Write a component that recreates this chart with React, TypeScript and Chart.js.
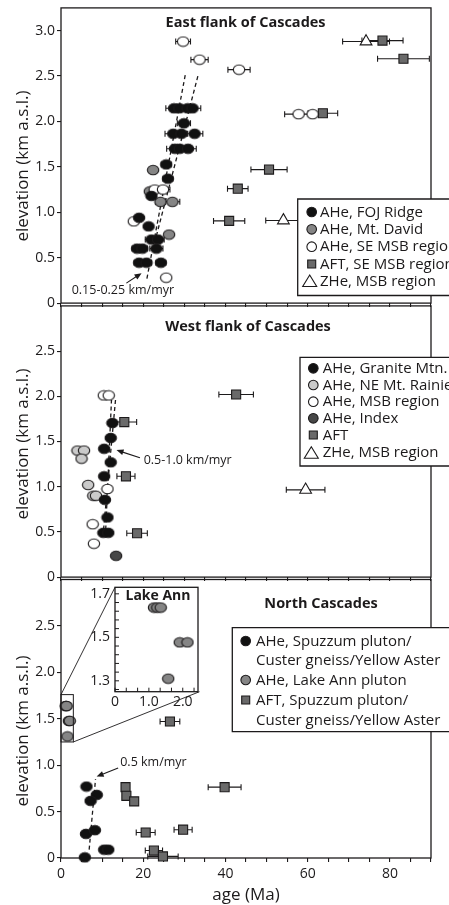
import React, { useEffect, useRef } from 'react';
import { Chart, registerables } from 'chart.js';

Chart.register(...registerables);

const FONT = '"Open Sans", "Noto Sans", sans-serif';
const INK = '#1c1a1b';
Chart.defaults.font.family = FONT;
Chart.defaults.color = INK;

// ---------------- axes ----------------
const AGE_MIN = 0;
const AGE_MAX = 90;
const ageTicks = [0, 5, 10, 15, 20, 25, 30, 35, 40, 45, 50, 55, 60, 65, 70, 75, 80, 85, 90];
const ageTickLabels = [0, 20, 40, 60, 80];
const eastElevMax = 3.25;
const westElevMax = 3.0;
const northElevMax = 3.0;
const eastElevTicks = [0, 0.5, 1.0, 1.5, 2.0, 2.5, 3.0];
const lowerElevTicks = [0, 0.5, 1.0, 1.5, 2.0, 2.5];

const insetAgeMax = 2.45;
const insetAgeTicks = [0, 0.333, 0.667, 1.0, 1.333, 1.667, 2.0, 2.333];
const insetAgeTickLabels = [0, 1, 2];
const insetElevMin = 1.25;
const insetElevMax = 1.73;
const insetElevTicks = [1.26, 1.3, 1.34, 1.38, 1.42, 1.46, 1.5, 1.54, 1.58, 1.62, 1.66, 1.7];
const insetElevTickLabels = [1.3, 1.5, 1.7];

// ---------------- East flank ----------------
const eastFojAge = [27.5, 28.8, 30.8, 32.0, 29.9, 27.3, 29.3, 32.5, 27.7, 28.9, 30.9, 25.6, 26.0, 22.0, 19.0, 21.3, 22.0, 23.6, 18.5, 19.8, 23.2, 19.0, 20.8, 24.3];
const eastFojElev = [2.145, 2.145, 2.145, 2.145, 1.98, 1.865, 1.865, 1.865, 1.70, 1.70, 1.70, 1.527, 1.37, 1.18, 0.94, 0.845, 0.70, 0.70, 0.60, 0.60, 0.60, 0.445, 0.445, 0.445];
const eastFojErr = [2.0, 1.5, 1.5, 2.0, 1.6, 2.0, 1.5, 2.0, 2.0, 1.5, 2.0, 1.2, 1.2, 1.0, 0, 0, 1.5, 1.5, 1.2, 1.2, 1.6, 1.2, 1.2, 1.2];
const eastDavidAge = [22.4, 21.6, 24.2, 27.1, 26.3];
const eastDavidElev = [1.465, 1.23, 1.115, 1.115, 0.755];
const eastDavidErr = [0, 0, 1.2, 1.8, 0];
const eastSeMsbAge = [29.7, 33.7, 43.3, 57.8, 61.2, 22.8, 24.8, 17.7, 25.6];
const eastSeMsbElev = [2.88, 2.68, 2.57, 2.08, 2.08, 1.25, 1.25, 0.90, 0.28];
const eastSeMsbErr = [1.8, 2.1, 2.7, 3.4, 0, 0, 1.7, 0, 0];
const eastAftAge = [78.2, 83.3, 63.7, 50.6, 43.0, 40.9];
const eastAftElev = [2.89, 2.69, 2.09, 1.47, 1.26, 0.905];
const eastAftErr = [5.0, 6.3, 3.6, 4.4, 2.5, 3.8];
const eastZheAge = [74.2, 54.1];
const eastZheElev = [2.88, 0.91];
const eastZheErr = [5.7, 4.3];
const eastRate1Age = [20.9, 30.3];
const eastRate1Elev = [0.27, 2.53];
const eastRate2Age = [23.2, 33.3];
const eastRate2Elev = [0.74, 2.50];
const eastArrowTail = [15.9, 0.22];
const eastArrowHead = [19.6, 0.33];
const eastNoteAt = [2.6, 0.14];

// ---------------- West flank ----------------
const westGraniteAge = [12.5, 12.1, 10.5, 12.1, 10.5, 10.7, 11.3, 10.3, 11.5];
const westGraniteElev = [1.705, 1.54, 1.42, 1.27, 1.115, 0.855, 0.66, 0.49, 0.49];
const westRainierAge = [4.0, 5.6, 5.0, 6.6, 7.85, 8.5];
const westRainierElev = [1.40, 1.40, 1.31, 1.02, 0.90, 0.90];
const westMsbAge = [10.4, 11.6, 11.3, 7.7, 8.0];
const westMsbElev = [2.01, 2.01, 0.975, 0.585, 0.37];
const westIndexAge = [13.4];
const westIndexElev = [0.236];
const westAftAge = [15.4, 15.8, 18.5, 42.6];
const westAftElev = [1.715, 1.115, 0.485, 2.02];
const westAftErr = [3.0, 2.2, 2.5, 4.2];
const westZheAge = [59.5];
const westZheElev = [0.965];
const westZheErr = [4.7];
const westRate1Age = [10.8, 12.3];
const westRate1Elev = [0.45, 1.98];
const westRate2Age = [10.2, 13.3];
const westRate2Elev = [0.45, 1.98];
const westArrowTail = [19.2, 1.32];
const westArrowHead = [13.5, 1.405];
const westNoteAt = [20.1, 1.285];

// ---------------- North Cascades ----------------
const northSpuzzumAge = [6.2, 8.7, 7.2, 6.07, 8.25, 10.5, 11.5, 5.8];
const northSpuzzumElev = [0.77, 0.68, 0.616, 0.26, 0.30, 0.09, 0.09, 0.007];
const northLakeAnnAge = [1.15, 1.25, 1.35, 1.91, 2.14, 1.57];
const northLakeAnnElev = [1.637, 1.637, 1.637, 1.477, 1.477, 1.31];
const northAftAge = [26.5, 39.8, 15.7, 15.9, 17.8, 20.6, 29.7, 22.6, 24.8];
const northAftElev = [1.47, 0.763, 0.763, 0.67, 0.61, 0.275, 0.305, 0.08, 0.017];
const northAftErr = [2.4, 4.0, 0, 0, 0, 2.3, 2.2, 2.1, 3.7];
const northRateAge = [6.85, 8.4];
const northRateElev = [0.09, 0.85];
const northArrowTail = [13.9, 0.97];
const northArrowHead = [8.67, 0.877];
const northNoteAt = [14.4, 1.03];
const lakeAnnBoxAge = [0, 3.0];
const lakeAnnBoxElev = [1.25, 1.76];

// ---------------- layout (pixels) ----------------
const W = 449;
const A_TOP = 0, A_H = 311;
const B_TOP = 298, B_H = 287;
const C_TOP = 572, C_H = 333;
const D_LEFT = 80, D_TOP = 580, D_W = 125, D_H = 130;
const INSET_BOX = { left: 115, top: 587.3, right: 199.5, bottom: 691.7 };

const BLACK = '#111111';
const GRAY = '#858585';
const SQUARE_GRAY = '#6a6a6a';
const LIGHT = '#cacaca';
const INDEX = '#474747';
const WHITE = '#ffffff';

// ---------------- helpers ----------------
const markerCache: Record<string, HTMLCanvasElement> = {};
function ellipseMarker(fill: string): HTMLCanvasElement {
  if (markerCache[fill]) return markerCache[fill];
  const c = document.createElement('canvas');
  c.width = 14;
  c.height = 12;
  const g = c.getContext('2d')!;
  g.beginPath();
  g.ellipse(7, 6, 5.7, 4.7, 0, 0, Math.PI * 2);
  g.fillStyle = fill;
  g.fill();
  g.lineWidth = 1.1;
  g.strokeStyle = INK;
  g.stroke();
  markerCache[fill] = c;
  return c;
}

function pts(xs: number[], ys: number[]) {
  return xs.map((x, i) => ({ x, y: ys[i] }));
}

function dotSet(label: string, xs: number[], ys: number[], fill: string, err?: number[]) {
  return { label, data: pts(xs, ys), pointStyle: ellipseMarker(fill), pointRadius: 6, errX: err, clip: false, order: 1 };
}
function squareSet(label: string, xs: number[], ys: number[], err?: number[]) {
  return {
    label, data: pts(xs, ys), pointStyle: 'rect', pointRadius: 6.4, backgroundColor: SQUARE_GRAY,
    borderColor: INK, borderWidth: 1.1, errX: err, clip: false, order: 1,
  };
}
function triangleSet(label: string, xs: number[], ys: number[], err?: number[]) {
  return {
    label, data: pts(xs, ys), pointStyle: 'triangle', pointRadius: 6.8, backgroundColor: WHITE,
    borderColor: INK, borderWidth: 1.1, errX: err, clip: false, order: 1,
  };
}
function dashSet(xs: number[], ys: number[]) {
  return {
    label: 'rate', data: pts(xs, ys), showLine: true, borderColor: INK, borderWidth: 1.3,
    borderDash: [4, 3], pointRadius: 0, fill: false, clip: false, order: 10,
  };
}

function drawArrow(ctx: CanvasRenderingContext2D, x1: number, y1: number, x2: number, y2: number) {
  const a = Math.atan2(y2 - y1, x2 - x1);
  const hl = 7, hw = 3;
  const c = Math.cos(a), s = Math.sin(a);
  ctx.beginPath();
  ctx.moveTo(x1, y1);
  ctx.lineTo(x2 - hl * 0.7 * c, y2 - hl * 0.7 * s);
  ctx.stroke();
  ctx.beginPath();
  ctx.moveTo(x2, y2);
  ctx.lineTo(x2 - hl * c + hw * s, y2 - hl * s - hw * c);
  ctx.lineTo(x2 - hl * c - hw * s, y2 - hl * s + hw * c);
  ctx.closePath();
  ctx.fill();
}

function drawLegendMarker(ctx: CanvasRenderingContext2D, kind: string, fill: string, x: number, y: number) {
  ctx.save();
  ctx.fillStyle = fill;
  ctx.strokeStyle = INK;
  ctx.lineWidth = 1.1;
  ctx.beginPath();
  if (kind === 'dot') ctx.arc(x, y, 4.8, 0, Math.PI * 2);
  else if (kind === 'square') ctx.rect(x - 4, y - 4, 8, 8);
  else {
    ctx.moveTo(x - 2, y - 6);
    ctx.lineTo(x + 5, y + 5.5);
    ctx.lineTo(x - 9, y + 5.5);
    ctx.closePath();
  }
  ctx.fill();
  ctx.stroke();
  ctx.restore();
}

type Row = { y: number; kind?: string; fill?: string; text: string };
type Decor = {
  title: { text: string; x: number; y: number };
  yTitleY: number;
  legend: { left: number; top: number; bottom: number; markerX: number; textX: number; rows: Row[] };
  arrows: { from: number[]; to: number[] }[];
  notes: { text: string; at: number[] }[];
  zoomBox?: { local: { left: number; top: number; right: number; bottom: number } };
};

function decorPlugin(d: Decor) {
  return {
    id: 'panelDecor',
    beforeDatasetsDraw(chart: any) {
      const { ctx, chartArea: a, scales } = chart;
      const xs = scales.x, ys = scales.y;
      ctx.save();
      ctx.strokeStyle = INK;
      ctx.lineWidth = 1.1;
      chart.data.datasets.forEach((ds: any) => {
        if (!ds.errX) return;
        ds.data.forEach((p: any, i: number) => {
          const e = ds.errX[i];
          if (!e) return;
          const x1 = xs.getPixelForValue(p.x - e);
          const x2 = xs.getPixelForValue(p.x + e);
          const y = ys.getPixelForValue(p.y);
          ctx.beginPath();
          ctx.moveTo(x1, y);
          ctx.lineTo(x2, y);
          ctx.moveTo(x1, y - 3);
          ctx.lineTo(x1, y + 3);
          ctx.moveTo(x2, y - 3);
          ctx.lineTo(x2, y + 3);
          ctx.stroke();
        });
      });
      ctx.lineWidth = 1.3;
      ctx.strokeRect(a.left, a.top, a.right - a.left, a.bottom - a.top);
      ctx.restore();
    },
    afterDatasetsDraw(chart: any) {
      const { ctx, scales } = chart;
      const xs = scales.x, ys = scales.y;
      ctx.save();
      ctx.strokeStyle = INK;
      ctx.fillStyle = INK;
      ctx.lineWidth = 1.1;
      d.arrows.forEach((ar) => {
        drawArrow(ctx, xs.getPixelForValue(ar.from[0]), ys.getPixelForValue(ar.from[1]),
          xs.getPixelForValue(ar.to[0]), ys.getPixelForValue(ar.to[1]));
      });
      ctx.font = `12.5px ${FONT}`;
      ctx.textAlign = 'left';
      ctx.textBaseline = 'middle';
      d.notes.forEach((n) => {
        ctx.fillText(n.text, xs.getPixelForValue(n.at[0]), ys.getPixelForValue(n.at[1]));
      });
      if (d.zoomBox) {
        const l = xs.getPixelForValue(lakeAnnBoxAge[0]);
        const r = xs.getPixelForValue(lakeAnnBoxAge[1]);
        const b = ys.getPixelForValue(lakeAnnBoxElev[0]);
        const t = ys.getPixelForValue(lakeAnnBoxElev[1]);
        ctx.lineWidth = 1;
        ctx.strokeRect(l, t, r - l, b - t);
        const z = d.zoomBox.local;
        ctx.lineWidth = 0.9;
        ctx.beginPath();
        ctx.moveTo(l, t);
        ctx.lineTo(z.left, z.top);
        ctx.moveTo(r, b);
        ctx.lineTo(z.right, z.bottom);
        ctx.stroke();
      }
      ctx.restore();
    },
    afterDraw(chart: any) {
      const { ctx } = chart;
      ctx.save();
      // legend box
      const lg = d.legend;
      ctx.fillStyle = WHITE;
      ctx.fillRect(lg.left, lg.top, W - lg.left + 5, lg.bottom - lg.top);
      ctx.strokeStyle = INK;
      ctx.lineWidth = 1.3;
      ctx.beginPath();
      ctx.moveTo(W + 5, lg.top);
      ctx.lineTo(lg.left, lg.top);
      ctx.lineTo(lg.left, lg.bottom);
      ctx.lineTo(W + 5, lg.bottom);
      ctx.stroke();
      ctx.font = `15px ${FONT}`;
      ctx.textAlign = 'left';
      ctx.textBaseline = 'middle';
      lg.rows.forEach((r) => {
        if (r.kind) drawLegendMarker(ctx, r.kind, r.fill || WHITE, lg.markerX, r.y);
        ctx.fillStyle = INK;
        ctx.fillText(r.text, lg.textX, r.y + 0.5);
      });
      // panel title
      ctx.fillStyle = INK;
      ctx.font = `bold 14.5px ${FONT}`;
      ctx.textAlign = 'center';
      ctx.fillText(d.title.text, d.title.x, d.title.y);
      // y title
      ctx.font = `17px ${FONT}`;
      ctx.translate(23, d.yTitleY);
      ctx.rotate(-Math.PI / 2);
      ctx.fillText('elevation (km a.s.l.)', 0, 0);
      ctx.restore();
    },
  };
}

function mainConfig(p: { datasets: any[]; yMax: number; yTicks: number[]; xLabels: boolean; xHeight: number; decor: Decor }) {
  const tickGrid = { drawOnChartArea: false, drawTicks: true, tickLength: 4, color: INK, lineWidth: 1.1 };
  return {
    type: 'scatter',
    data: { datasets: p.datasets },
    options: {
      responsive: false,
      animation: false,
      events: [],
      layout: { padding: { top: 7, right: W - 431, left: 0, bottom: 0 } },
      plugins: { legend: { display: false }, tooltip: { enabled: false } },
      scales: {
        x: {
          type: 'linear',
          position: 'bottom',
          min: AGE_MIN,
          max: AGE_MAX,
          afterBuildTicks: (s: any) => { s.ticks = ageTicks.map((v) => ({ value: v })); },
          afterFit: (s: any) => { s.height = p.xHeight; s.paddingLeft = 0; s.paddingRight = 0; },
          grid: tickGrid,
          border: { display: false },
          ticks: {
            autoSkip: false,
            maxRotation: 0,
            padding: 4,
            font: { size: 14 },
            color: INK,
            callback: (v: number) => (p.xLabels && ageTickLabels.includes(v) ? String(v) : ''),
          },
          title: p.xLabels
            ? { display: true, text: 'age (Ma)', font: { size: 17 }, color: INK, padding: { top: 0, bottom: 0 } }
            : { display: false },
        },
        y: {
          type: 'linear',
          position: 'left',
          min: 0,
          max: p.yMax,
          afterBuildTicks: (s: any) => { s.ticks = p.yTicks.map((v) => ({ value: v })); },
          afterFit: (s: any) => { s.width = 61; s.paddingTop = 0; s.paddingBottom = 0; },
          grid: tickGrid,
          border: { display: false },
          ticks: {
            padding: 2,
            font: { size: 14 },
            color: INK,
            callback: (v: number) => (v === 0 ? '0' : v.toFixed(1)),
          },
        },
      },
    },
    plugins: [decorPlugin(p.decor)],
  };
}

const insetPlugin = {
  id: 'insetDecor',
  beforeDraw(chart: any) {
    const { ctx, chartArea: a } = chart;
    ctx.save();
    ctx.fillStyle = WHITE;
    ctx.fillRect(a.left, a.top, a.right - a.left, a.bottom - a.top);
    ctx.restore();
  },
  beforeDatasetsDraw(chart: any) {
    const { ctx, chartArea: a, scales } = chart;
    ctx.save();
    ctx.strokeStyle = INK;
    ctx.lineWidth = 1;
    ctx.beginPath();
    scales.y.ticks.forEach((t: any) => {
      const y = scales.y.getPixelForValue(t.value);
      ctx.moveTo(a.left, y);
      ctx.lineTo(a.left + 4, y);
    });
    scales.x.ticks.forEach((t: any) => {
      const x = scales.x.getPixelForValue(t.value);
      ctx.moveTo(x, a.bottom);
      ctx.lineTo(x, a.bottom - 4);
    });
    ctx.stroke();
    ctx.lineWidth = 1.3;
    ctx.strokeRect(a.left, a.top, a.right - a.left, a.bottom - a.top);
    ctx.restore();
  },
  afterDraw(chart: any) {
    const { ctx } = chart;
    ctx.save();
    ctx.fillStyle = INK;
    ctx.font = `bold 14px ${FONT}`;
    ctx.textAlign = 'center';
    ctx.textBaseline = 'middle';
    ctx.fillText('Lake Ann', 158 - D_LEFT, 596 - D_TOP);
    ctx.restore();
  },
};

function insetConfig() {
  return {
    type: 'scatter',
    data: { datasets: [dotSet('AHe, Lake Ann pluton', northLakeAnnAge, northLakeAnnElev, GRAY)] },
    options: {
      responsive: false,
      animation: false,
      events: [],
      layout: {
        padding: {
          top: INSET_BOX.top - D_TOP,
          right: D_LEFT + D_W - INSET_BOX.right,
          left: 0,
          bottom: 0,
        },
      },
      plugins: { legend: { display: false }, tooltip: { enabled: false } },
      scales: {
        x: {
          type: 'linear',
          min: 0,
          max: insetAgeMax,
          afterBuildTicks: (s: any) => { s.ticks = insetAgeTicks.map((v) => ({ value: v })); },
          afterFit: (s: any) => { s.height = D_TOP + D_H - INSET_BOX.bottom; s.paddingLeft = 0; s.paddingRight = 0; },
          grid: { display: false, drawTicks: false },
          border: { display: false },
          ticks: {
            autoSkip: false,
            maxRotation: 0,
            padding: 2,
            font: { size: 14 },
            color: INK,
            callback: (v: number) => {
              const hit = insetAgeTickLabels.find((l) => Math.abs(l - v) < 1e-6);
              if (hit === undefined) return '';
              return hit === 0 ? '0' : hit.toFixed(1);
            },
          },
        },
        y: {
          type: 'linear',
          min: insetElevMin,
          max: insetElevMax,
          afterBuildTicks: (s: any) => { s.ticks = insetElevTicks.map((v) => ({ value: v })); },
          afterFit: (s: any) => { s.width = INSET_BOX.left - D_LEFT; s.paddingTop = 0; s.paddingBottom = 0; },
          grid: { display: false, drawTicks: false },
          border: { display: false },
          ticks: {
            autoSkip: false,
            padding: 5,
            font: { size: 14 },
            color: INK,
            callback: (v: number) => {
              const hit = insetElevTickLabels.find((l) => Math.abs(l - v) < 1e-6);
              return hit === undefined ? '' : hit.toFixed(1);
            },
          },
        },
      },
    },
    plugins: [insetPlugin],
  };
}

function eastConfig() {
  return mainConfig({
    yMax: eastElevMax,
    yTicks: eastElevTicks,
    xLabels: false,
    xHeight: 6,
    datasets: [
      dotSet('AHe, FOJ Ridge', eastFojAge, eastFojElev, BLACK, eastFojErr),
      dotSet('AHe, SE MSB region', eastSeMsbAge, eastSeMsbElev, WHITE, eastSeMsbErr),
      dotSet('AHe, Mt. David', eastDavidAge, eastDavidElev, GRAY, eastDavidErr),
      squareSet('AFT, SE MSB region', eastAftAge, eastAftElev, eastAftErr),
      triangleSet('ZHe, MSB region', eastZheAge, eastZheElev, eastZheErr),
      dashSet(eastRate1Age, eastRate1Elev),
      dashSet(eastRate2Age, eastRate2Elev),
    ],
    decor: {
      title: { text: 'East flank of Cascades', x: 245.6, y: 22.7 - A_TOP },
      yTitleY: 166 - A_TOP,
      legend: {
        left: 297.7, top: 199, bottom: 295.5, markerX: 311.7, textX: 320,
        rows: [
          { y: 212, kind: 'dot', fill: BLACK, text: 'AHe, FOJ Ridge' },
          { y: 229.3, kind: 'dot', fill: GRAY, text: 'AHe, Mt. David' },
          { y: 246.7, kind: 'dot', fill: WHITE, text: 'AHe, SE MSB region' },
          { y: 264, kind: 'square', fill: SQUARE_GRAY, text: 'AFT, SE MSB region' },
          { y: 281, kind: 'triangle', fill: WHITE, text: 'ZHe, MSB region' },
        ],
      },
      arrows: [{ from: eastArrowTail, to: eastArrowHead }],
      notes: [{ text: '0.15-0.25 km/myr', at: eastNoteAt }],
    },
  });
}

function westConfig() {
  const o = B_TOP;
  return mainConfig({
    yMax: westElevMax,
    yTicks: lowerElevTicks,
    xLabels: false,
    xHeight: 6,
    datasets: [
      dotSet('AHe, Granite Mtn.', westGraniteAge, westGraniteElev, BLACK),
      dotSet('AHe, Index', westIndexAge, westIndexElev, INDEX),
      dotSet('AHe, MSB region', westMsbAge, westMsbElev, WHITE),
      dotSet('AHe, NE Mt. Rainier', westRainierAge, westRainierElev, LIGHT),
      squareSet('AFT', westAftAge, westAftElev, westAftErr),
      triangleSet('ZHe, MSB region', westZheAge, westZheElev, westZheErr),
      dashSet(westRate1Age, westRate1Elev),
      dashSet(westRate2Age, westRate2Elev),
    ],
    decor: {
      title: { text: 'West flank of Cascades', x: 248, y: 327.3 - o },
      yTitleY: 444 - o,
      legend: {
        left: 300, top: 357.3 - o, bottom: 466 - o, markerX: 313.3, textX: 322.7,
        rows: [
          { y: 368.3 - o, kind: 'dot', fill: BLACK, text: 'AHe, Granite Mtn.' },
          { y: 385 - o, kind: 'dot', fill: LIGHT, text: 'AHe, NE Mt. Rainier' },
          { y: 401.7 - o, kind: 'dot', fill: WHITE, text: 'AHe, MSB region' },
          { y: 418.3 - o, kind: 'dot', fill: INDEX, text: 'AHe, Index' },
          { y: 435 - o, kind: 'square', fill: SQUARE_GRAY, text: 'AFT' },
          { y: 452.7 - o, kind: 'triangle', fill: WHITE, text: 'ZHe, MSB region' },
        ],
      },
      arrows: [{ from: westArrowTail, to: westArrowHead }],
      notes: [{ text: '0.5-1.0 km/myr', at: westNoteAt }],
    },
  });
}

function northConfig() {
  const o = C_TOP;
  return mainConfig({
    yMax: northElevMax,
    yTicks: lowerElevTicks,
    xLabels: true,
    xHeight: 47,
    datasets: [
      dotSet('AHe, Spuzzum pluton/Custer gneiss/Yellow Aster', northSpuzzumAge, northSpuzzumElev, BLACK),
      dotSet('AHe, Lake Ann pluton', northLakeAnnAge, northLakeAnnElev, GRAY),
      squareSet('AFT, Spuzzum pluton/Custer gneiss/Yellow Aster', northAftAge, northAftElev, northAftErr),
      dashSet(northRateAge, northRateElev),
    ],
    decor: {
      title: { text: 'North Cascades', x: 321, y: 604 - o },
      yTitleY: 731 - o,
      legend: {
        left: 232.3, top: 627.7 - o, bottom: 731.7 - o, markerX: 245.7, textX: 256,
        rows: [
          { y: 641 - o, kind: 'dot', fill: BLACK, text: 'AHe, Spuzzum pluton/' },
          { y: 660.5 - o, text: 'Custer gneiss/Yellow Aster' },
          { y: 680 - o, kind: 'dot', fill: GRAY, text: 'AHe, Lake Ann pluton' },
          { y: 700 - o, kind: 'square', fill: SQUARE_GRAY, text: 'AFT, Spuzzum pluton/' },
          { y: 720 - o, text: 'Custer gneiss/Yellow Aster' },
        ],
      },
      arrows: [{ from: northArrowTail, to: northArrowHead }],
      notes: [{ text: '0.5 km/myr', at: northNoteAt }],
      zoomBox: {
        local: {
          left: INSET_BOX.left, top: INSET_BOX.top - o,
          right: INSET_BOX.right, bottom: INSET_BOX.bottom - o,
        },
      },
    },
  });
}

export default function App() {
  const refA = useRef<HTMLCanvasElement>(null);
  const refB = useRef<HTMLCanvasElement>(null);
  const refC = useRef<HTMLCanvasElement>(null);
  const refD = useRef<HTMLCanvasElement>(null);

  useEffect(() => {
    const charts = [
      new Chart(refA.current!, eastConfig() as any),
      new Chart(refB.current!, westConfig() as any),
      new Chart(refC.current!, northConfig() as any),
      new Chart(refD.current!, insetConfig() as any),
    ];
    return () => charts.forEach((c) => c.destroy());
  }, []);

  const abs = (left: number, top: number, w: number, h: number): React.CSSProperties => ({
    position: 'absolute', left, top, width: w, height: h,
  });

  return (
    <div style={{ position: 'absolute', left: 0, top: 0, width: W, height: 905, background: '#fff', overflow: 'hidden' }}>
      <canvas ref={refA} width={W} height={A_H} style={abs(0, A_TOP, W, A_H)} />
      <canvas ref={refB} width={W} height={B_H} style={abs(0, B_TOP, W, B_H)} />
      <canvas ref={refC} width={W} height={C_H} style={abs(0, C_TOP, W, C_H)} />
      <canvas ref={refD} width={D_W} height={D_H} style={abs(D_LEFT, D_TOP, D_W, D_H)} />
    </div>
  );
}
